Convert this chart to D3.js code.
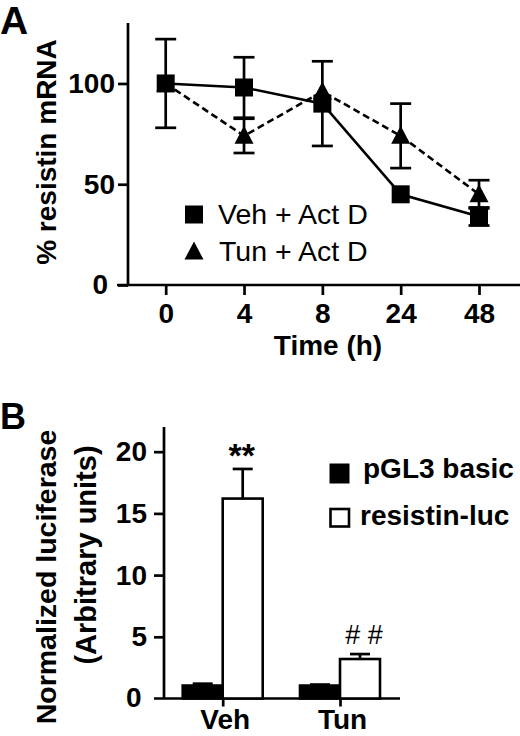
<!DOCTYPE html>
<html>
<head>
<meta charset="utf-8">
<script src="https://cdn.jsdelivr.net/npm/d3@7"></script>
<style>
body { margin: 0; background: #fff; }
svg { display: block; font-family: "Liberation Sans", Arial, sans-serif; }
.axis text { font-size: 28px; font-weight: bold; fill: #000; }
.axis line { stroke: #000; stroke-width: 2.7; }
.axis path { display: none; }
</style>
</head>
<body>
<svg id="fig" width="520" height="736"></svg>
<script>
// ---- panel A data: % resistin mRNA after Act D
var timeLabels = ['0', '4', '8', '24', '48'];
var vehMean = [100, 98, 90, 45, 34];
var vehErr = [22, 15, 21, 0, 4.5];
var tunMean = [100, 74, 96, 74, 45];
var tunErr = [0, 8.5, 0, 16, 7];
var aTicks = [0, 50, 100];

// ---- panel B data: luciferase
var groups = ['Veh', 'Tun'];
var constructs = ['pGL3 basic', 'resistin-luc'];
var pgl3Mean = [1.05, 1.05];
var pgl3Err = [0.15, 0.08];
var resLucMean = [16.2, 3.2];
var resLucErr = [2.4, 0.4];
var bTicks = [0, 5, 10, 15, 20];
var marks = ['**', '# #'];

var svg = d3.select('#fig');

// =================== Panel A ===================
var yA = d3.scaleLinear().domain([0, 130]).range([285, 23]);
var xA = d3.scalePoint().domain(timeLabels).range([165.7, 479]);

svg.append('text')
	.attr('x', 0)
	.attr('y', 34)
	.attr('font-size', 39)
	.attr('font-weight', 'bold')
	.text('A');

// axis lines
svg.append('line')
	.attr('x1', 128).attr('x2', 128)
	.attr('y1', yA(130)).attr('y2', yA(0))
	.attr('stroke', '#000').attr('stroke-width', 2.7);
svg.append('line')
	.attr('x1', 117).attr('x2', 520)
	.attr('y1', yA(0)).attr('y2', yA(0))
	.attr('stroke', '#000').attr('stroke-width', 2.7);

var gyA = svg.append('g')
	.attr('class', 'axis')
	.attr('transform', 'translate(128,0)')
	.call(d3.axisLeft(yA).tickValues(aTicks).tickSize(10).tickPadding(3).tickSizeOuter(0));
gyA.selectAll('.tick').filter(function(d) { return d === 0; })
	.select('text').attr('x', -20);

svg.append('g')
	.attr('class', 'axis')
	.attr('transform', 'translate(0,' + yA(0) + ')')
	.call(d3.axisBottom(xA).tickSize(10).tickPadding(8).tickSizeOuter(0));

svg.append('text')
	.attr('x', 328)
	.attr('y', 355)
	.attr('text-anchor', 'middle')
	.attr('font-size', 28)
	.attr('font-weight', 'bold')
	.text('Time (h)');

svg.append('text')
	.attr('transform', 'translate(56,152) rotate(-90)')
	.attr('text-anchor', 'middle')
	.attr('font-size', 28)
	.attr('font-weight', 'bold')
	.text('% resistin mRNA');

function drawSeries(mean, err, dashed, shape) {
	var pts = timeLabels.map(function(t, i) { return { t: t, m: mean[i], e: err[i] }; });
	var line = d3.line()
		.x(function(d) { return xA(d.t); })
		.y(function(d) { return yA(d.m); });
	svg.append('path')
		.datum(pts)
		.attr('d', line)
		.attr('fill', 'none')
		.attr('stroke', '#000')
		.attr('stroke-width', 2.6)
		.attr('stroke-dasharray', dashed ? '7,4' : null);

	var eb = svg.append('g');
	pts.filter(function(d) { return d.e > 0; }).forEach(function(d) {
		var x = xA(d.t);
		eb.append('line')
			.attr('x1', x).attr('x2', x)
			.attr('y1', yA(d.m - d.e)).attr('y2', yA(d.m + d.e))
			.attr('stroke', '#000').attr('stroke-width', 2.7);
		[d.m - d.e, d.m + d.e].forEach(function(v) {
			eb.append('line')
				.attr('x1', x - 10.5).attr('x2', x + 10.5)
				.attr('y1', yA(v)).attr('y2', yA(v))
				.attr('stroke', '#000').attr('stroke-width', 2.7);
		});
	});

	svg.append('g')
		.selectAll('path')
		.data(pts)
		.join('path')
		.attr('transform', function(d) { return 'translate(' + xA(d.t) + ',' + yA(d.m) + ')'; })
		.attr('d', shape)
		.attr('fill', '#000');
}

var squarePath = 'M-9,-9H9V9H-9Z';
var triPath = 'M0,-10L9.5,8H-9.5Z';

drawSeries(tunMean, tunErr, true, triPath);
drawSeries(vehMean, vehErr, false, squarePath);

// legend A
var legA = svg.append('g').attr('transform', 'translate(194,0)');
legA.append('path').attr('transform', 'translate(0,214.5)').attr('d', squarePath).attr('fill', '#000');
legA.append('path').attr('transform', 'translate(0,251.5)').attr('d', triPath).attr('fill', '#000');
legA.append('text').attr('x', 24).attr('y', 224).attr('font-size', 28.5).text('Veh + Act D');
legA.append('text').attr('x', 25).attr('y', 261).attr('font-size', 28.5).text('Tun + Act D');

// =================== Panel B ===================
var yB = d3.scaleLinear().domain([0, 22]).range([698.5, 427]);
var xB = d3.scalePoint().domain(groups).range([222.7, 340]);
var xSub = d3.scaleBand().domain(constructs).range([-40, 40]);

svg.append('text')
	.attr('x', 0)
	.attr('y', 429)
	.attr('font-size', 36)
	.attr('font-weight', 'bold')
	.text('B');

svg.append('line')
	.attr('x1', 164).attr('x2', 164)
	.attr('y1', yB(22)).attr('y2', yB(0))
	.attr('stroke', '#000').attr('stroke-width', 2.7);
svg.append('line')
	.attr('x1', 154).attr('x2', 400)
	.attr('y1', yB(0)).attr('y2', yB(0))
	.attr('stroke', '#000').attr('stroke-width', 2.7);

var gyB = svg.append('g')
	.attr('class', 'axis')
	.attr('transform', 'translate(164,0)')
	.call(d3.axisLeft(yB).tickValues(bTicks.slice(1)).tickSize(10).tickPadding(7).tickSizeOuter(0));
// zero label sits under the x axis extension
svg.append('text')
	.attr('x', 141.7)
	.attr('y', yB(0))
	.attr('dy', '0.32em')
	.attr('text-anchor', 'end')
	.attr('font-size', 28)
	.attr('font-weight', 'bold')
	.text(bTicks[0]);

var gxB = svg.append('g')
	.attr('class', 'axis')
	.attr('transform', 'translate(0,' + yB(0) + ')')
	.call(d3.axisBottom(xB).tickSize(8).tickPadding(3).tickSizeOuter(0));
gxB.selectAll('.tick text').attr('dx', 2);

svg.append('text')
	.attr('transform', 'translate(56,577) rotate(-90)')
	.attr('text-anchor', 'middle')
	.attr('font-size', 28.5)
	.attr('font-weight', 'bold')
	.text('Normalized luciferase');
svg.append('text')
	.attr('transform', 'translate(96,555) rotate(-90)')
	.attr('text-anchor', 'middle')
	.attr('font-size', 29)
	.attr('font-weight', 'bold')
	.text('(Arbitrary units)');

var barData = [];
groups.forEach(function(g, i) {
	barData.push({ g: g, c: constructs[0], m: pgl3Mean[i], e: pgl3Err[i], fill: '#000' });
	barData.push({ g: g, c: constructs[1], m: resLucMean[i], e: resLucErr[i], fill: '#fff' });
});

// error bars (upper half only) drawn first, bars on top
var ebB = svg.append('g');
barData.forEach(function(d) {
	var cx = xB(d.g) + xSub(d.c) + xSub.bandwidth() / 2;
	ebB.append('line')
		.attr('x1', cx).attr('x2', cx)
		.attr('y1', yB(d.m)).attr('y2', yB(d.m + d.e))
		.attr('stroke', '#000').attr('stroke-width', 2.7);
	ebB.append('line')
		.attr('x1', cx - 10).attr('x2', cx + 10)
		.attr('y1', yB(d.m + d.e)).attr('y2', yB(d.m + d.e))
		.attr('stroke', '#000').attr('stroke-width', 2.7);
});

svg.append('g')
	.selectAll('rect')
	.data(barData)
	.join('rect')
	.attr('x', function(d) { return xB(d.g) + xSub(d.c); })
	.attr('y', function(d) { return yB(d.m); })
	.attr('width', xSub.bandwidth())
	.attr('height', function(d) { return yB(0) - yB(d.m); })
	.attr('fill', function(d) { return d.fill; })
	.attr('stroke', '#000')
	.attr('stroke-width', 2.6);

// significance marks above resistin-luc bars
svg.append('text')
	.attr('x', xB('Veh') + xSub(constructs[1]) + xSub.bandwidth() / 2 - 1)
	.attr('y', 467)
	.attr('text-anchor', 'middle')
	.attr('font-size', 34)
	.attr('font-weight', 'bold')
	.text(marks[0]);
svg.append('text')
	.attr('x', xB('Tun') + xSub(constructs[1]) + xSub.bandwidth() / 2 + 4)
	.attr('y', 644)
	.attr('text-anchor', 'middle')
	.attr('font-size', 27)
	.text(marks[1]);

// legend B
var legB = svg.append('g');
legB.append('rect').attr('x', 329.5).attr('y', 463.5).attr('width', 20).attr('height', 20).attr('fill', '#000');
legB.append('rect').attr('x', 330.5).attr('y', 509).attr('width', 18.5).attr('height', 17.5)
	.attr('fill', '#fff').attr('stroke', '#000').attr('stroke-width', 2.6);
legB.append('text').attr('x', 363).attr('y', 478).attr('font-size', 28).attr('font-weight', 'bold').text(constructs[0]);
legB.append('text').attr('x', 360).attr('y', 525).attr('font-size', 28).attr('font-weight', 'bold').text(constructs[1]);
</script>
</body>
</html>
